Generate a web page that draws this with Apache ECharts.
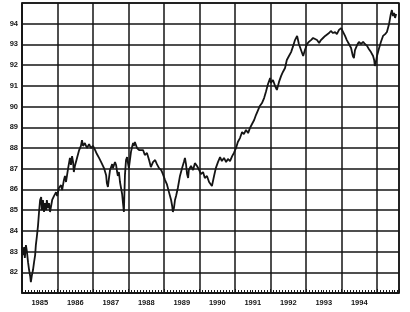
<!DOCTYPE html>
<html>
<head>
<meta charset="utf-8">
<script src="https://cdn.jsdelivr.net/npm/echarts@6/dist/echarts.min.js"></script>
<style>
html,body{margin:0;padding:0;background:#fff;}
#c{width:410px;height:312px;}
</style>
</head>
<body>
<div id="c"></div>
<script>
var years = [1985.00,1985.03,1985.06,1985.08,1985.11,1985.14,1985.17,1985.20,1985.23,1985.25,1985.28,1985.31,1985.34,1985.37,1985.39,1985.42,1985.45,1985.48,1985.51,1985.54,1985.56,1985.59,1985.62,1985.65,1985.68,1985.70,1985.73,1985.76,1985.79,1985.85,1985.90,1985.96,1985.99,1986.04,1986.10,1986.13,1986.18,1986.21,1986.24,1986.30,1986.35,1986.38,1986.41,1986.44,1986.46,1986.49,1986.55,1986.61,1986.66,1986.69,1986.72,1986.77,1986.83,1986.89,1986.94,1987.00,1987.06,1987.11,1987.17,1987.23,1987.28,1987.31,1987.37,1987.39,1987.42,1987.45,1987.48,1987.54,1987.56,1987.62,1987.65,1987.68,1987.70,1987.73,1987.76,1987.79,1987.82,1987.85,1987.87,1987.90,1987.93,1987.96,1987.99,1988.01,1988.04,1988.07,1988.10,1988.13,1988.15,1988.18,1988.24,1988.30,1988.35,1988.41,1988.46,1988.52,1988.58,1988.63,1988.69,1988.75,1988.80,1988.86,1988.92,1988.97,1989.03,1989.08,1989.14,1989.20,1989.23,1989.25,1989.28,1989.31,1989.34,1989.39,1989.45,1989.51,1989.56,1989.59,1989.62,1989.65,1989.68,1989.70,1989.76,1989.82,1989.87,1989.93,1989.99,1990.04,1990.10,1990.15,1990.21,1990.27,1990.32,1990.35,1990.41,1990.46,1990.52,1990.58,1990.63,1990.69,1990.75,1990.80,1990.86,1990.92,1990.97,1991.03,1991.08,1991.14,1991.20,1991.25,1991.31,1991.37,1991.42,1991.48,1991.54,1991.59,1991.65,1991.70,1991.76,1991.82,1991.87,1991.93,1991.99,1992.01,1992.07,1992.13,1992.18,1992.24,1992.30,1992.35,1992.41,1992.46,1992.52,1992.58,1992.63,1992.69,1992.75,1992.80,1992.86,1992.92,1992.97,1993.03,1993.08,1993.14,1993.20,1993.25,1993.31,1993.37,1993.42,1993.48,1993.54,1993.59,1993.65,1993.70,1993.76,1993.82,1993.87,1993.93,1993.99,1994.04,1994.10,1994.15,1994.21,1994.27,1994.32,1994.35,1994.38,1994.44,1994.49,1994.55,1994.61,1994.66,1994.72,1994.77,1994.83,1994.89,1994.92,1994.94,1994.97,1995.00,1995.06,1995.11,1995.17,1995.23,1995.28,1995.34,1995.37,1995.39,1995.42,1995.45,1995.48,1995.51,1995.54];
var values = [83.07,82.83,83.22,82.69,83.31,82.98,82.49,82.11,81.82,81.53,81.87,82.11,82.49,82.83,83.31,83.75,84.23,84.91,85.49,85.63,85.00,85.49,84.91,85.34,85.00,85.49,85.10,85.34,84.91,85.49,85.68,85.87,85.68,86.07,86.21,85.97,86.45,86.65,86.36,87.03,87.52,87.18,87.61,87.32,86.84,87.13,87.52,87.90,88.10,88.38,88.10,88.24,88.00,88.19,88.00,88.10,87.90,87.71,87.52,87.32,87.27,87.03,86.69,86.31,86.12,86.55,86.94,87.22,87.03,87.32,87.18,86.84,86.65,86.84,86.36,86.07,85.78,85.25,84.91,86.69,87.42,87.56,87.22,87.03,87.42,87.81,88.05,88.24,88.10,88.29,88.00,87.90,87.81,87.90,87.66,87.76,87.42,87.08,87.32,87.42,87.22,87.03,86.94,86.74,86.45,86.26,85.87,85.49,85.20,84.91,85.10,85.49,85.68,86.07,86.65,87.03,87.32,87.52,87.22,86.74,86.55,86.94,87.13,86.94,87.27,87.13,86.94,86.74,86.84,86.55,86.65,86.36,86.45,86.16,86.65,87.03,87.32,87.56,87.37,87.52,87.32,87.47,87.37,87.61,87.76,88.00,88.29,88.48,88.77,88.67,88.87,88.72,88.96,89.16,89.35,89.59,89.83,90.03,90.17,90.41,90.70,91.09,91.38,91.14,91.28,90.99,90.80,91.19,91.48,91.67,91.86,92.25,92.44,92.63,92.88,93.21,93.41,93.02,92.73,92.44,92.73,93.02,93.12,93.21,93.31,93.36,93.21,93.07,93.21,93.31,93.41,93.50,93.55,93.65,93.55,93.60,93.50,93.70,93.79,93.70,93.41,93.21,93.02,92.83,92.44,92.34,92.73,92.97,93.12,93.02,93.12,93.02,92.93,92.78,92.63,92.44,92.25,91.96,92.15,92.44,92.83,93.12,93.41,93.50,93.60,93.99,94.28,94.47,94.66,94.37,94.52,94.28,94.47];
var xTickLabels = ['1985','1986','1987','1988','1989','1990','1991','1992','1993','1994'];
var yTickLabels = ['82','83','84','85','86','87','88','89','90','91','92','93','94'];

var data = years.map(function (y, i) { return [y, values[i]]; });
var ink = '#151515';
var labelFont = {color: ink, fontSize: 7.5, fontWeight: 'bold', fontFamily: 'Liberation Sans, Arial, sans-serif'};

var chart = echarts.init(document.getElementById('c'), null, {renderer: 'canvas'});
chart.setOption({
  animation: false,
  backgroundColor: '#ffffff',
  grid: {left: 22, right: 11, top: 3, bottom: 19, show: true, borderColor: ink, borderWidth: 1.5, backgroundColor: 'transparent'},
  xAxis: [{
    type: 'value', min: 1985, max: 1995.62, interval: 1,
    axisLine: {show: true, lineStyle: {color: ink, width: 1.5}},
    axisTick: {show: true, inside: true, length: 4, lineStyle: {color: ink, width: 1}},
    minorTick: {show: true, splitNumber: 12, length: 3, lineStyle: {color: ink, width: 1}},
    axisLabel: {show: false},
    splitLine: {show: true, lineStyle: {color: ink, width: 1.5}}
  }, {
    type: 'value', min: 1984.5, max: 1995.12, interval: 0.5, position: 'bottom',
    axisLine: {show: false}, axisTick: {show: false}, splitLine: {show: false},
    axisLabel: Object.assign({
      margin: 6,
      formatter: function (v) { var s = String(v); return xTickLabels.indexOf(s) >= 0 ? s : ''; }
    }, labelFont)
  }],
  yAxis: {
    type: 'value', min: 81, max: 95, interval: 1,
    axisLine: {show: true, lineStyle: {color: ink, width: 1.5}},
    axisTick: {show: false},
    axisLabel: Object.assign({
      margin: 4,
      formatter: function (v) { var s = String(v); return yTickLabels.indexOf(s) >= 0 ? s : ''; }
    }, labelFont),
    splitLine: {show: true, lineStyle: {color: ink, width: 1.5}}
  },
  series: [{
    type: 'line', xAxisIndex: 0, data: data, showSymbol: false, symbol: 'none',
    lineStyle: {color: ink, width: 1.8}, z: 5
  }]
});
</script>
</body>
</html>
